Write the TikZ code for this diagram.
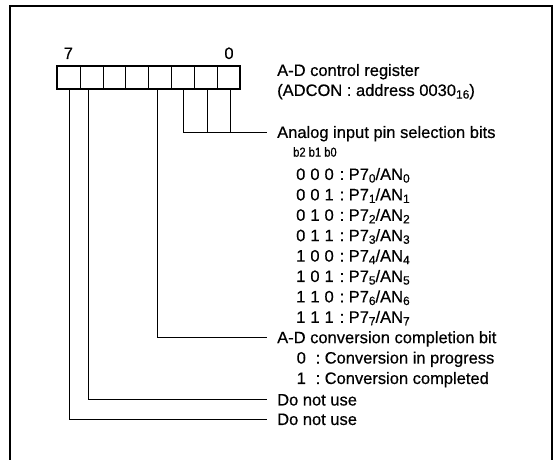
\documentclass[tikz,border=0pt]{standalone}
\usepackage{fontspec}
\setmainfont{Liberation Sans}[FakeBold=0.5]
\usepackage{graphicx}
\newcommand{\dg}{\hspace{5pt}}
\newcommand{\sbs}[1]{\raisebox{-2.6pt}{\fontsize{12}{13}\selectfont #1}}
\begin{document}
\begin{tikzpicture}[x=1pt,y=-1pt,
  cell/.style={draw, line width=0.8pt, minimum width=22.84pt, minimum height=23.3pt, inner sep=0pt, outer sep=0pt},
  lbl/.style={anchor=west, inner sep=0pt, font=\fontsize{16.5}{19}\selectfont, text height=13.2pt, text depth=1.3pt},
  bitno/.style={inner sep=0pt, font=\fontsize{16.5}{19}\selectfont},
  wire/.style={line width=0.9pt},
  frame/.style={line width=2.2pt}]
\useasboundingbox (0,0) rectangle (556,459);
\fill[white] (0,0) rectangle (556,459);
\draw[frame] (10,462) -- (10,6) -- (552,6) -- (552,462);

% register cells (bit 7 ... bit 0)
\foreach \b [count=\k from 0] in {7,6,5,4,3,2,1,0} {
  \node[cell] (c\b) at (57.3+\k*22.84+11.42, 77.65) {};
}
\draw[line width=1.9pt] (c7.north west) rectangle (c0.south east);
\node[bitno] (n7) at (68.3,53.3) {7};
\node[bitno] (n0) at (229,53.3) {0};

% labels
\node[lbl] (title1) at (277,70) {A-D control register};
\node[lbl] (title2) at (277,90) {(ADCON : address 0030\sbs{16})};
\node[lbl] (analog) at (277,132) {Analog input pin selection bits};
\node[anchor=west, inner sep=0pt] (bb) at (293,152) {\scalebox{0.86}[1]{\fontsize{13}{15}\selectfont b2 b1 b0}};

\foreach \code/\i [count=\k from 0] in {0\dg0\dg0/0,0\dg0\dg1/1,0\dg1\dg0/2,0\dg1\dg1/3,1\dg0\dg0/4,1\dg0\dg1/5,1\dg1\dg0/6,1\dg1\dg1/7} {
  \node[lbl] (cd\i) at (296,174+\k*20.4) {\code};
  \node[lbl] (cl\i) at (339.5,174+\k*20.4) {:};
  \node[lbl] (pn\i) at (348.5,174+\k*20.4) {P7\sbs{\i}/AN\sbs{\i}};
}

\node[lbl] (adc) at (277,337.2) {A-D conversion completion bit};
\node[lbl] (v0) at (296.5,357.6) {0};
\node[lbl] (k0) at (315.5,357.6) {:};
\node[lbl] (t0) at (324.5,357.6) {Conversion in progress};
\node[lbl] (v1) at (296.5,378) {1};
\node[lbl] (k1) at (315.5,378) {:};
\node[lbl] (t1) at (324.5,378) {Conversion completed};
\node[lbl] (dnu1) at (277,399.5) {Do not use};
\node[lbl] (dnu2) at (277,419) {Do not use};

% connectors
\coordinate (aend) at ([xshift=-10.3pt]analog.west);
\draw[wire] ([xshift=0.6pt]c2.south) |- (aend);
\draw[wire] ([xshift=1.5pt]c1.south) -- ([xshift=1.5pt]c1.south |- aend);
\draw[wire] ([xshift=1.9pt]c0.south) -- ([xshift=1.9pt]c0.south |- aend);
\draw[wire] ([xshift=-2.6pt]c3.south) |- ([xshift=-10.3pt]adc.west);
\draw[wire] ([xshift=-3.2pt]c6.south) |- ([xshift=-10.3pt]dnu1.west);
\draw[wire] ([xshift=0.3pt]c7.south) |- ([xshift=-10.3pt]dnu2.west);
\end{tikzpicture}
\end{document}
